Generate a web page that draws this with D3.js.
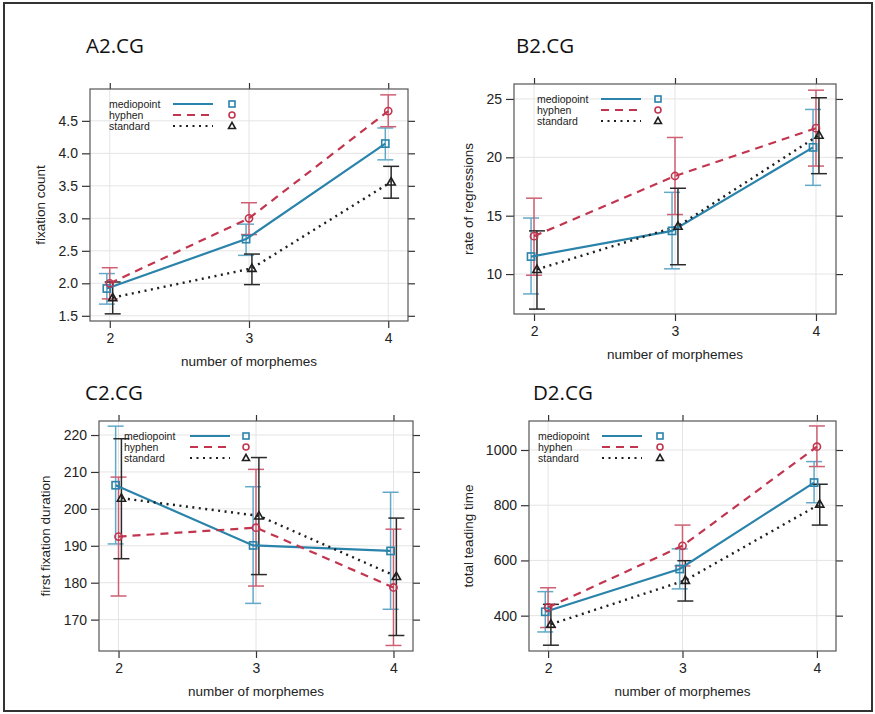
<!DOCTYPE html>
<html><head><meta charset="utf-8">
<script src="https://cdn.jsdelivr.net/npm/d3@7"></script>
<style>body{margin:0;background:#fff}svg{display:block}</style>
</head><body>
<script>
// ---------- data ----------
const morphemes = [2, 3, 4];
const seriesNames = ["mediopoint", "hyphen", "standard"];
const xTickLabels = ["2", "3", "4"];
const xAxisTitle = "number of morphemes";

// A2.CG fixation count  (rows: mediopoint, hyphen, standard)
const aFit = [[1.92, 2.68, 4.15], [2.00, 3.00, 4.65], [1.78, 2.23, 3.56]];
const aLo  = [[1.68, 2.43, 3.90], [1.76, 2.75, 4.41], [1.53, 1.98, 3.31]];
const aHi  = [[2.15, 2.91, 4.39], [2.24, 3.24, 4.90], [2.02, 2.45, 3.80]];
const aTicks = [1.5, 2.0, 2.5, 3.0, 3.5, 4.0, 4.5];

// B2.CG rate of regressions
const bFit = [[11.5, 13.7, 20.85], [13.25, 18.4, 22.5], [10.4, 14.1, 21.9]];
const bLo  = [[8.3, 10.45, 17.6], [9.9, 15.1, 19.25], [7.0, 10.8, 18.6]];
const bHi  = [[14.8, 17.0, 24.1], [16.5, 21.7, 25.75], [13.7, 17.35, 25.1]];
const bTicks = [10, 15, 20, 25];

// C2.CG first fixation duration
const cFit = [[206.4, 190.1, 188.6], [192.5, 194.9, 178.7], [202.9, 198.1, 181.7]];
const cLo  = [[190.5, 174.4, 172.8], [176.4, 179.1, 163.0], [186.5, 182.2, 165.7]];
const cHi  = [[222.4, 206.0, 204.5], [208.6, 210.7, 194.5], [219.0, 213.9, 197.5]];
const cTicks = [170, 180, 190, 200, 210, 220];

// D2.CG total teading time
const dFit = [[414, 569, 882], [430, 653, 1012], [369, 528, 804]];
const dLo  = [[341, 497, 809], [357, 580, 940], [293, 453, 728]];
const dHi  = [[487, 642, 958], [501, 728, 1087], [441, 599, 876]];
const dTicks = [400, 600, 800, 1000];

const titles = ["A2.CG", "B2.CG", "C2.CG", "D2.CG"];
const yTitles = ["fixation count", "rate of regressions", "first fixation duration", "total teading time"];

// ---------- layout / style ----------
const W = 875, H = 714;
const panels = [
  {title: titles[0], yTitle: yTitles[0], fit: aFit, lo: aLo, hi: aHi, ticks: aTicks, fmt: d3.format(".1f"),
   box: [90, 89, 408, 321], ydom: [1.42, 4.99], tx: 86, ty: 53, ylx: 40, leg: [19, 83, 142]},
  {title: titles[1], yTitle: yTitles[1], fit: bFit, lo: bLo, hi: bHi, ticks: bTicks, fmt: d3.format("d"),
   box: [514, 84, 836, 314], ydom: [6.58, 26.28], tx: 516, ty: 53, ylx: 468, leg: [23, 87, 144]},
  {title: titles[2], yTitle: yTitles[2], fit: cFit, lo: cLo, hi: cHi, ticks: cTicks, fmt: d3.format("d"),
   box: [99, 421, 413, 651], ydom: [161.5, 223.8], tx: 85, ty: 400, ylx: 45, leg: [25, 91, 147]},
  {title: titles[3], yTitle: yTitles[3], fit: dFit, lo: dLo, hi: dHi, ticks: dTicks, fmt: d3.format("d"),
   box: [529, 421, 836, 651], ydom: [272, 1105], tx: 533, ty: 400, ylx: 468, leg: [9, 73, 131]}
];
const lineCol = ["#2a83aa", "#c2354f", "#1e1e1e"];
const errCol  = ["#62a9c8", "#cf5f72", "#2a2a2a"];
const dash = [null, "8,6", "2,4.5"];
const jitter = [-0.021, 0, 0.021];
const font = "'Liberation Sans', Arial, sans-serif";

const svg = d3.select("body").append("svg").attr("width", W).attr("height", H);
svg.append("rect").attr("width", W).attr("height", H).attr("fill", "#fff");
svg.append("rect").attr("x", 4).attr("y", 3).attr("width", 868).attr("height", 708)
  .attr("fill", "none").attr("stroke", "#333").attr("stroke-width", 2);

panels.forEach(p => {
  const [L, T, R, B] = p.box;
  const x = d3.scaleLinear().domain([1.858, 4.142]).range([L, R]);
  const y = d3.scaleLinear().domain(p.ydom).range([B, T]);
  const g = svg.append("g");

  // title
  g.append("text").attr("x", p.tx).attr("y", p.ty).text(p.title)
    .attr("font-family", "'Open Sans', sans-serif").attr("font-size", 20.5).attr("fill", "#111");

  // grid
  g.append("g").selectAll("line").data(p.ticks).join("line")
    .attr("x1", L).attr("x2", R).attr("y1", d => y(d)).attr("y2", d => y(d))
    .attr("stroke", "#e4e4e4").attr("stroke-width", 1);
  g.append("g").selectAll("line").data(morphemes).join("line")
    .attr("y1", T).attr("y2", B).attr("x1", d => x(d)).attr("x2", d => x(d))
    .attr("stroke", "#e4e4e4").attr("stroke-width", 1);

  // axes (ticks on all four sides, labels left & bottom)
  const axL = d3.axisLeft(y).tickValues(p.ticks).tickFormat(p.fmt).tickSizeOuter(0).tickSizeInner(8).tickPadding(4);
  const axR = d3.axisRight(y).tickValues(p.ticks).tickFormat("").tickSizeOuter(0).tickSizeInner(7);
  const axB = d3.axisBottom(x).tickValues(morphemes).tickFormat((d, i) => xTickLabels[i]).tickSizeOuter(0).tickSizeInner(7).tickPadding(5);
  const axT = d3.axisTop(x).tickValues(morphemes).tickFormat("").tickSizeOuter(0).tickSizeInner(6);
  [[axL, `translate(${L},0)`], [axR, `translate(${R},0)`], [axB, `translate(0,${B})`], [axT, `translate(0,${T})`]]
    .forEach(([ax, tr]) => {
      const a = g.append("g").attr("transform", tr).call(ax);
      a.select(".domain").remove();
      a.selectAll("line").attr("stroke", "#333").attr("stroke-width", 1.2);
      a.selectAll("text").attr("font-family", font).attr("font-size", 14).attr("fill", "#222");
    });

  // box
  g.append("rect").attr("x", L).attr("y", T).attr("width", R - L).attr("height", B - T)
    .attr("fill", "none").attr("stroke", "#555").attr("stroke-width", 1.2);

  // axis titles
  g.append("text").attr("x", (L + R) / 2).attr("y", B + 45).attr("text-anchor", "middle")
    .attr("font-family", font).attr("font-size", 13.5).attr("fill", "#222").text(xAxisTitle);
  g.append("text").attr("transform", `translate(${p.ylx},${(T + B) / 2}) rotate(-90)`)
    .attr("text-anchor", "middle").attr("dy", "0.35em")
    .attr("font-family", font).attr("font-size", 13.5).attr("fill", "#222").text(p.yTitle);

  // error bars
  seriesNames.forEach((s, si) => {
    const eg = g.append("g");
    const idx = d3.range(morphemes.length);
    eg.selectAll("line.v").data(idx).join("line").attr("class", "v")
      .attr("x1", i => x(morphemes[i] + jitter[si])).attr("x2", i => x(morphemes[i] + jitter[si]))
      .attr("y1", i => y(p.lo[si][i])).attr("y2", i => y(p.hi[si][i]))
      .attr("stroke", errCol[si]).attr("stroke-width", 1.5);
    [p.lo[si], p.hi[si]].forEach(arr => {
      eg.append("g").selectAll("line").data(idx).join("line")
        .attr("x1", i => x(morphemes[i] + jitter[si]) - 8).attr("x2", i => x(morphemes[i] + jitter[si]) + 8)
        .attr("y1", i => y(arr[i])).attr("y2", i => y(arr[i]))
        .attr("stroke", errCol[si]).attr("stroke-width", 1.5);
    });
  });

  // lines
  seriesNames.forEach((s, si) => {
    const line = d3.line().x((d, i) => x(morphemes[i] + jitter[si])).y(d => y(d));
    g.append("path").attr("d", line(p.fit[si])).attr("fill", "none")
      .attr("stroke", lineCol[si]).attr("stroke-width", si === 2 ? 2.4 : 2.2)
      .attr("stroke-dasharray", dash[si]);
  });

  // symbols
  const sym = (sel, si, cx, cy, sz) => {
    if (si === 0) sel.append("rect").attr("x", cx - sz).attr("y", cy - sz).attr("width", 2 * sz).attr("height", 2 * sz)
      .attr("fill", "none").attr("stroke", lineCol[0]).attr("stroke-width", 1.6);
    else if (si === 1) sel.append("circle").attr("cx", cx).attr("cy", cy).attr("r", sz)
      .attr("fill", "none").attr("stroke", lineCol[1]).attr("stroke-width", 1.6);
    else sel.append("path").attr("d", `M${cx},${cy - sz * 1.2}L${cx + sz * 1.15},${cy + sz * 0.85}L${cx - sz * 1.15},${cy + sz * 0.85}Z`)
      .attr("fill", "none").attr("stroke", lineCol[2]).attr("stroke-width", 1.6);
  };
  seriesNames.forEach((s, si) => {
    p.fit[si].forEach((v, i) => sym(g, si, x(morphemes[i] + jitter[si]), y(v), 3.6));
  });

  // legend
  seriesNames.forEach((s, si) => {
    const ly = T + 15 + si * 11;
    g.append("text").attr("x", L + p.leg[0]).attr("y", ly).attr("dy", "0.35em")
      .attr("font-family", font).attr("font-size", 10.5).attr("fill", "#222").text(s);
    g.append("line").attr("x1", L + p.leg[1]).attr("x2", L + p.leg[1] + 40).attr("y1", ly).attr("y2", ly)
      .attr("stroke", lineCol[si]).attr("stroke-width", 2).attr("stroke-dasharray", dash[si]);
    sym(g, si, L + p.leg[2], ly, 3);
  });
});
</script>
</body></html>
